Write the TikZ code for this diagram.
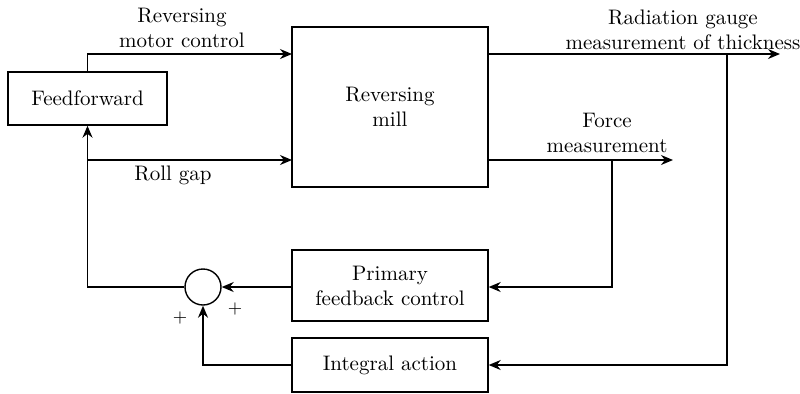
\documentclass[tikz,border=0pt]{standalone}
\usetikzlibrary{arrows.meta}
\begin{document}
\begin{tikzpicture}[x=0.5pt,y=-0.5pt,font=\fontsize{10.5}{12.5}\selectfont,
  box/.style={draw,line width=0.7pt,inner sep=0pt,align=center},
  lbl/.style={align=center,inner sep=0pt},
  arr/.style={-{Stealth[length=6pt,width=5pt]},line width=0.7pt},
  ln/.style={line width=0.7pt}]
\useasboundingbox (0,0) rectangle (800,393);
% blocks
\node[box,minimum width=79.5pt,minimum height=26.5pt] (ff) at (87.5,98.5) {Feedforward};
\node[box,minimum width=98pt,minimum height=80pt] (mill) at (390,107) {Reversing\\mill};
\node[box,minimum width=98pt,minimum height=35.5pt] (prim) at (390,285.5) {Primary\\feedback control};
\node[box,minimum width=98pt,minimum height=27pt] (int) at (390,365) {Integral action};
\node[draw,circle,line width=0.7pt,minimum size=18pt,inner sep=0pt] (sum) at (203,287) {};
% coordinates
\coordinate (mIn1) at (292,54);
\coordinate (mIn2) at (292,160);
\coordinate (j1) at (88,160);
\coordinate (mOut1) at (488,54);
\coordinate (mOut2) at (488,160);
\coordinate (radEnd) at (780,54);
\coordinate (forEnd) at (673,160);
\coordinate (b1) at (612,160);
\coordinate (b2) at (727,54);
% connectors
\draw[arr] (ff.north) |- (mIn1);
\draw[arr] (j1) -- (mIn2);
\draw[arr] (sum.west) -| (ff.south);
\draw[arr] (mOut1) -- (radEnd);
\draw[arr] (mOut2) -- (forEnd);
\draw[arr] (b1) |- (prim.east |- sum);
\draw[arr] (b2) |- (int.east);
\draw[arr] (prim.west |- sum) -- (sum.east);
\draw[arr] (int.west) -| (sum.south);
% labels
\node[lbl] (l1) at (182,28) {Reversing\\motor control};
\node[lbl] (l2) at (173,175) {Roll gap};
\node[lbl] (l3) at (683,30) {Radiation gauge\\measurement of thickness};
\node[lbl] (l4) at (607,133) {Force\\measurement};
\node[lbl] (p1) at (180,318) {\small +};
\node[lbl] (p2) at (235,309) {\small +};
\end{tikzpicture}
\end{document}
